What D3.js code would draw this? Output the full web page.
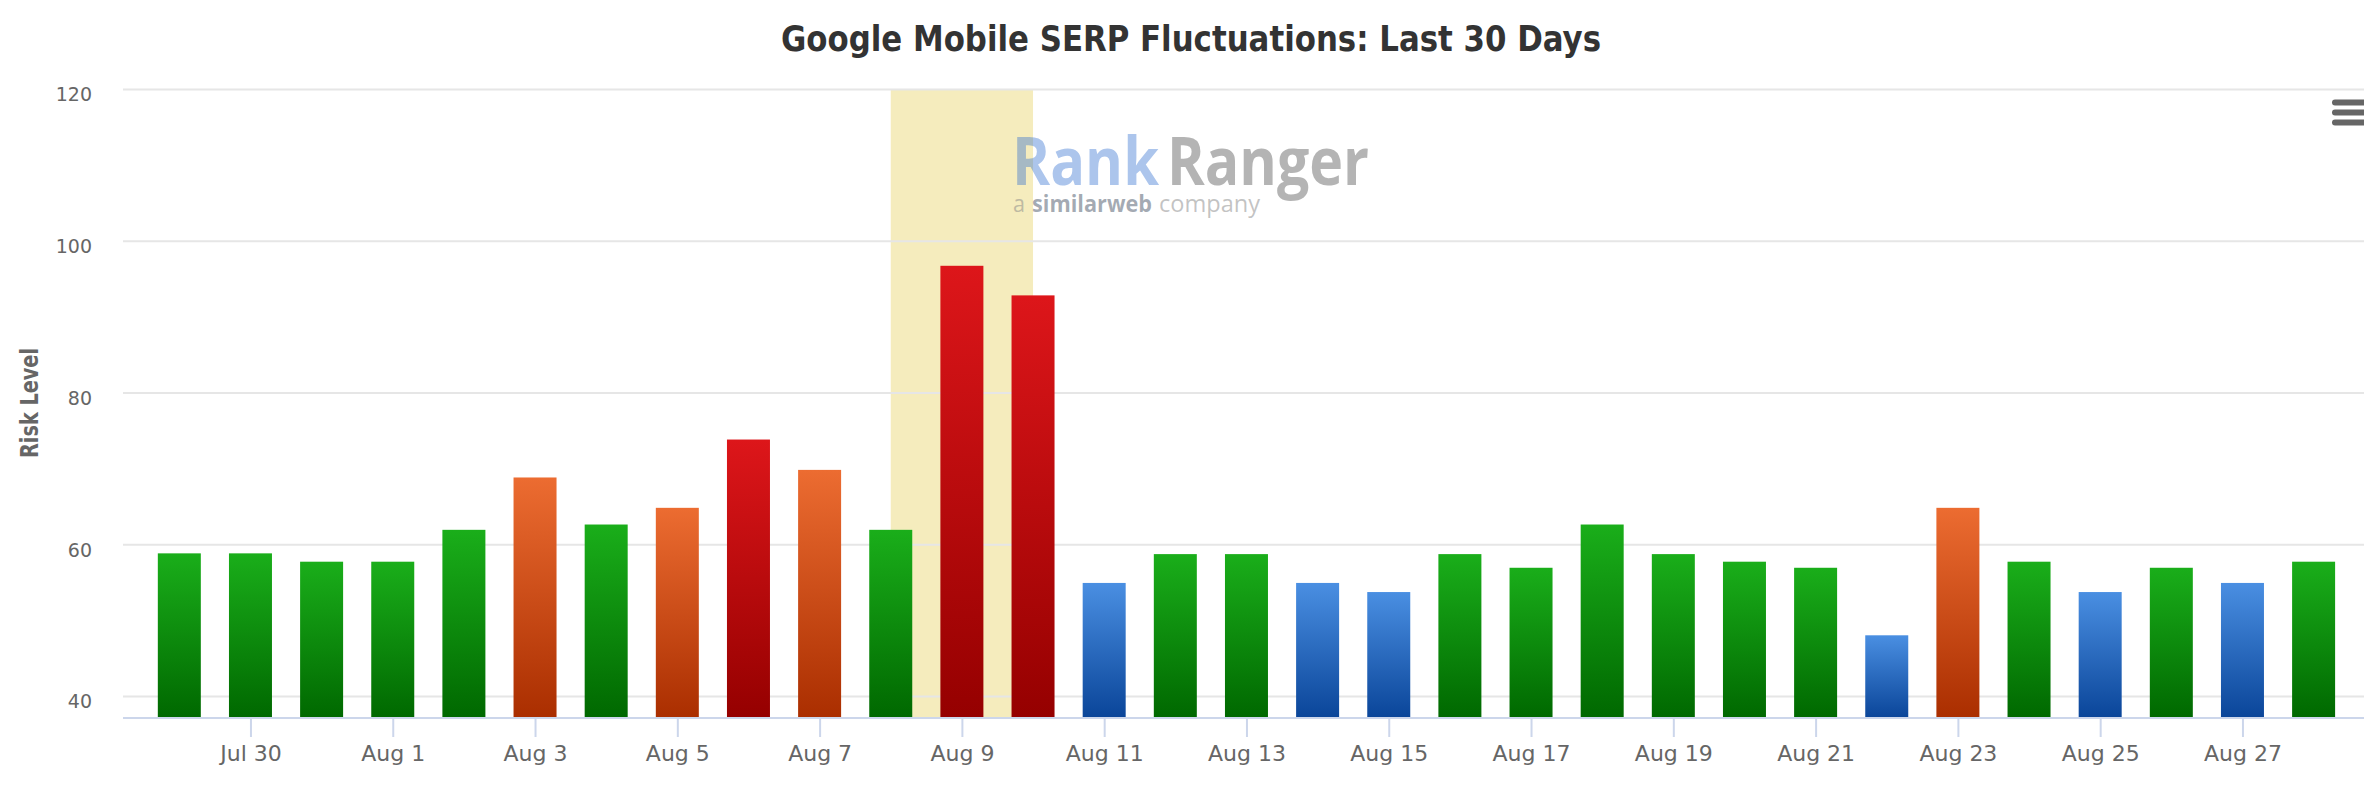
<!DOCTYPE html>
<html>
<head>
<meta charset="utf-8">
<script src="https://cdn.jsdelivr.net/npm/d3@7"></script>
<style>
  html, body { margin: 0; padding: 0; background: #fff; }
  svg { display: block; }
</style>
</head>
<body>
<div id="chart"></div>
<script>
// Data
const days = [
  "2023-07-29", "2023-07-30", "2023-07-31", "2023-08-01", "2023-08-02", "2023-08-03",
  "2023-08-04", "2023-08-05", "2023-08-06", "2023-08-07", "2023-08-08", "2023-08-09",
  "2023-08-10", "2023-08-11", "2023-08-12", "2023-08-13", "2023-08-14", "2023-08-15",
  "2023-08-16", "2023-08-17", "2023-08-18", "2023-08-19", "2023-08-20", "2023-08-21",
  "2023-08-22", "2023-08-23", "2023-08-24", "2023-08-25", "2023-08-26", "2023-08-27",
  "2023-08-28"
];
const riskLevels = [
  58.8, 58.8, 57.7, 57.7, 61.9, 68.8,
  62.6, 64.8, 73.8, 69.8, 61.9, 96.7,
  92.8, 54.9, 58.7, 58.7, 54.9, 53.7,
  58.7, 56.9, 62.6, 58.7, 57.7, 56.9,
  48.0, 64.8, 57.7, 53.7, 56.9, 54.9,
  57.7
];
const tickDays = [
  "2023-07-30", "2023-08-01", "2023-08-03", "2023-08-05", "2023-08-07", "2023-08-09",
  "2023-08-11", "2023-08-13", "2023-08-15", "2023-08-17", "2023-08-19", "2023-08-21",
  "2023-08-23", "2023-08-25", "2023-08-27"
];
const yTicks = [40, 60, 80, 100, 120];
const bandDays = ["2023-08-08", "2023-08-10"];
const levelBreaks = [56, 64, 72];
const levelNames = ["low", "normal", "high", "veryhigh"];

const width = 2364, height = 790;
const margin = { top: 89, right: 0, bottom: 72, left: 123 };
const plotW = width - margin.left - margin.right;
const plotH = height - margin.top - margin.bottom;

const parse = d3.utcParse("%Y-%m-%d");
const data = days.map((d, i) => ({ date: parse(d), value: riskLevels[i] }));

const svg = d3.select("#chart").append("svg")
  .attr("width", width)
  .attr("height", height)
  .attr("viewBox", [0, 0, width, height]);

// gradients, one per level
const gradColors = {
  low: ["#4a8fe2", "#0a4599"],
  normal: ["#1aae1a", "#006800"],
  high: ["#ec6c31", "#aa2e00"],
  veryhigh: ["#dd161a", "#950000"]
};
const defs = svg.append("defs");
levelNames.forEach(name => {
  const g = defs.append("linearGradient")
    .attr("id", "grad-" + name)
    .attr("x1", 0).attr("y1", 0).attr("x2", 0).attr("y2", 1);
  g.append("stop").attr("offset", "0%").attr("stop-color", gradColors[name][0]);
  g.append("stop").attr("offset", "100%").attr("stop-color", gradColors[name][1]);
});

const level = d3.scaleThreshold().domain(levelBreaks).range(levelNames);

// Scales
const first = data[0].date, last = data[data.length - 1].date;
const x = d3.scaleUtc()
  .domain([d3.utcHour.offset(first, -19), d3.utcHour.offset(last, 17.3)])
  .range([margin.left, margin.left + plotW]);
const y = d3.scaleLinear()
  .domain([37.1, 120])
  .range([margin.top + plotH, margin.top]);

const barW = 43;

// Title
svg.append("text")
  .attr("x", 1191)
  .attr("y", 51)
  .attr("text-anchor", "middle")
  .attr("textLength", 820)
  .attr("lengthAdjust", "spacingAndGlyphs")
  .style("font-family", "'Liberation Sans Narrow', 'DejaVu Sans Condensed', 'DejaVu Sans', sans-serif")
  .style("font-stretch", "condensed")
  .style("font-weight", "bold")
  .style("font-size", "36px")
  .style("fill", "#333")
  .text("Google Mobile SERP Fluctuations: Last 30 Days");

// Plot band
svg.append("rect")
  .attr("x", x(parse(bandDays[0])))
  .attr("y", margin.top)
  .attr("width", x(parse(bandDays[1])) - x(parse(bandDays[0])))
  .attr("height", plotH)
  .style("fill", "#f5ecbd");

// Y grid + labels
const yAxis = svg.append("g")
  .attr("transform", `translate(${margin.left},0)`)
  .call(d3.axisLeft(y).tickValues(yTicks).tickSize(-plotW).tickPadding(31));
yAxis.select(".domain").remove();
yAxis.selectAll(".tick line")
  .attr("stroke", "#e6e6e6")
  .attr("stroke-width", 2);
yAxis.selectAll(".tick text")
  .attr("dy", "0.62em")
  .style("font-family", "'DejaVu Sans', Verdana, sans-serif")
  .style("font-size", "19px")
  .style("fill", "#666");

// Watermark (each word its own text so nothing overlaps)
const wm = svg.append("g").attr("class", "watermark");
const wmFont = "'Open Sans', 'DejaVu Sans', sans-serif";
[
  { t: "Rank", x: 1012, len: 147, fill: "#2f6fcf" },
  { t: "Ranger", x: 1167, len: 202, fill: "#444" }
].forEach(w => {
  wm.append("text")
    .attr("x", w.x).attr("y", 185)
    .attr("textLength", w.len)
    .attr("lengthAdjust", "spacingAndGlyphs")
    .style("font-family", wmFont)
    .style("font-weight", "bold")
    .style("font-size", "66px")
    .style("fill", w.fill)
    .style("fill-opacity", 0.4)
    .text(w.t);
});
[
  { t: "a", x: 1013, len: 12, fill: "#888", bold: false },
  { t: "similarweb", x: 1032, len: 120, fill: "#4a5668", bold: true },
  { t: "company", x: 1159, len: 101, fill: "#888", bold: false }
].forEach(w => {
  wm.append("text")
    .attr("x", w.x).attr("y", 212)
    .attr("textLength", w.len)
    .attr("lengthAdjust", "spacingAndGlyphs")
    .style("font-family", wmFont)
    .style("font-weight", w.bold ? "bold" : "normal")
    .style("font-size", "24px")
    .style("fill", w.fill)
    .style("fill-opacity", 0.5)
    .text(w.t);
});

// Bars
svg.append("g")
  .selectAll("rect")
  .data(data)
  .join("rect")
  .attr("x", d => x(d.date) - barW / 2)
  .attr("y", d => y(d.value))
  .attr("width", barW)
  .attr("height", d => y.range()[0] - y(d.value))
  .style("fill", d => `url(#grad-${level(d.value)})`);

// X axis
const xAxis = svg.append("g")
  .attr("transform", `translate(0,${margin.top + plotH})`)
  .call(d3.axisBottom(x)
    .tickValues(tickDays.map(parse))
    .tickSize(19)
    .tickPadding(8)
    .tickFormat(d3.utcFormat("%b %-d")));
xAxis.select(".domain")
  .attr("d", `M${margin.left},0H${margin.left + plotW}`)
  .attr("stroke", "#ccd6eb")
  .attr("stroke-width", 2);
xAxis.selectAll(".tick line")
  .attr("stroke", "#ccd6eb")
  .attr("stroke-width", 2);
xAxis.selectAll(".tick text")
  .style("font-family", "'DejaVu Sans', Verdana, sans-serif")
  .style("font-size", "22px")
  .style("fill", "#666");

// Y axis title
svg.append("text")
  .attr("transform", "translate(38,403) rotate(-90)")
  .attr("text-anchor", "middle")
  .attr("textLength", 110)
  .attr("lengthAdjust", "spacingAndGlyphs")
  .style("font-family", "'Liberation Sans Narrow', 'DejaVu Sans Condensed', 'DejaVu Sans', sans-serif")
  .style("font-stretch", "condensed")
  .style("font-weight", "bold")
  .style("font-size", "24px")
  .style("fill", "#666")
  .text("Risk Level");

// Context menu icon
svg.append("g")
  .selectAll("line")
  .data([102.5, 112.5, 122.5])
  .join("line")
  .attr("x1", 2335).attr("x2", 2370)
  .attr("y1", d => d).attr("y2", d => d)
  .attr("stroke", "#666")
  .attr("stroke-width", 6)
  .attr("stroke-linecap", "round");
</script>
</body>
</html>
